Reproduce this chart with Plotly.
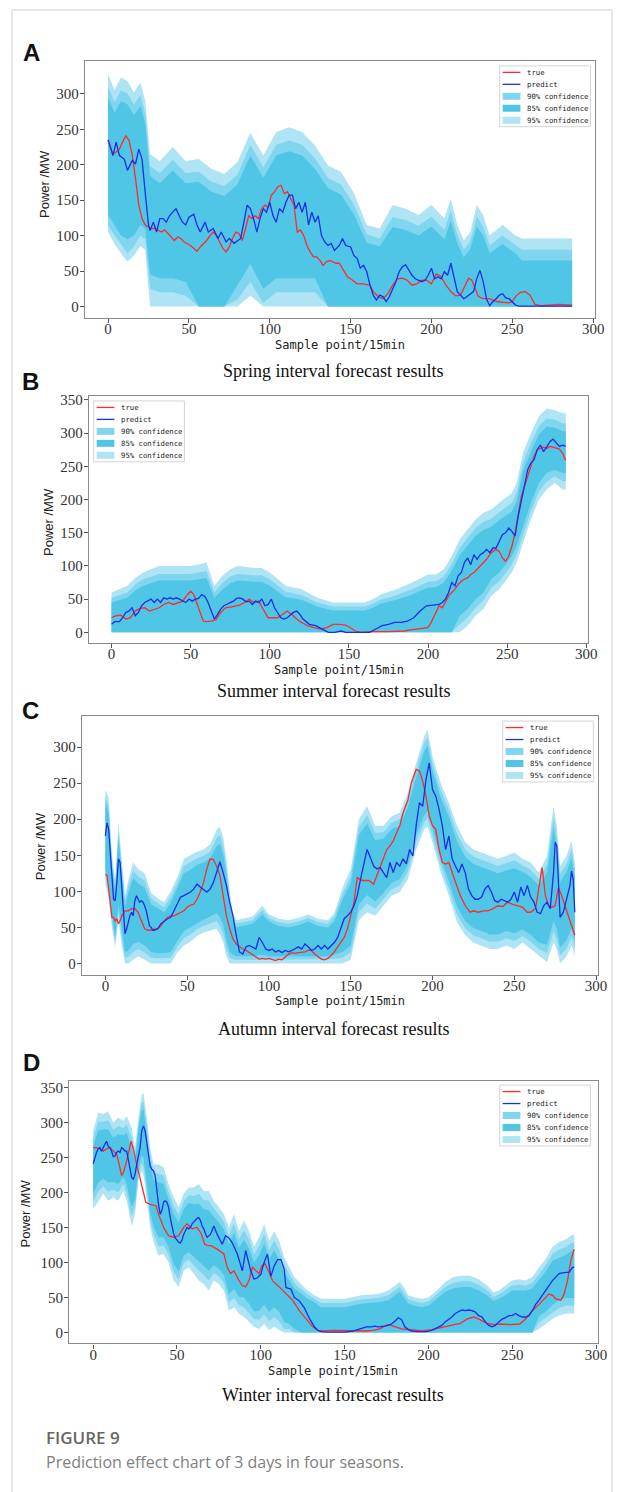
import plotly.graph_objects as go

# page is 626x1492; the browser body adds an 8px margin, so the figure is drawn 8px in
PAGE_W, PAGE_H, OFF = 626, 1492, 8
FW, FH = PAGE_W - OFF, PAGE_H - OFF

# ---------------- DATA ----------------
# Panel A - Spring
A_TRUE_X = [0,3,5,7,9,11,13,15,17,19,21,23,25,27,29,31,33,35,37,39,41,43,45,47,49,51,53,55,57,59,
            61,63,65,67,69,71,73,75,77,79,81,83,85,87,89,91,93,95,97,99,101,103,105,107,109,111,113,115,117,119,
            121,123,125,127,129,131,133,135,137,139,141,143,146,148,150,154,158,162,164,167,170,173,176,179,182,185,188,191,194,197,
            200,203,206,209,212,215,218,221,223,225,227,229,232,236,240,244,248,250,252,255,258,261,264,268,275,279,287]
A_TRUE = [235,215,218,222,232,241,234,213,180,143,124,115,112,110,110,108,105,108,103,98,
          93,98,96,91,89,86,82,78,84,89,93,100,105,100,91,82,77,84,96,105,
          103,93,110,128,124,128,124,138,143,140,157,162,169,171,159,162,152,143,105,108,
          100,86,77,70,70,65,58,63,65,63,61,61,49,42,39,32,32,30,21,14,
          11,18,30,39,40,37,30,32,37,37,32,46,42,30,21,15,16,30,40,37,
          25,14,11,11,7,6,5,7,14,20,21,16,3,1,2,3,2]
A_PRED_X = [0,3,5,7,10,12,15,17,19,21,23,25,26,28,30,32,34,36,38,40,42,44,46,48,50,53,55,57,60,62,
            65,68,70,73,75,78,80,82,84,86,88,90,92,94,96,98,100,102,104,106,108,110,112,114,116,118,120,122,124,126,
            128,130,132,134,136,138,140,143,145,147,150,152,154,156,158,160,162,164,166,168,170,172,174,176,178,180,182,184,186,188,
            190,192,194,196,198,200,202,204,206,208,210,212,214,216,218,220,222,224,226,228,230,232,234,236,238,240,242,244,246,248,
            250,252,254,287]
A_PRED = [235,213,232,213,208,192,206,201,222,208,160,115,107,119,105,124,124,119,128,133,
          138,128,119,115,126,130,115,105,119,105,110,96,105,91,96,89,93,96,119,143,
          138,124,105,124,138,133,147,128,119,138,133,147,157,157,138,147,133,147,115,133,
          119,128,100,91,86,89,79,86,96,86,84,72,68,54,58,49,30,16,9,16,
          14,7,14,25,35,49,56,59,51,44,39,37,35,37,44,54,39,42,39,49,
          44,61,39,21,16,11,14,18,21,39,51,35,11,1,7,11,16,18,12,11,
          7,2,0.5,0.5]
A_BAND_X = [0,4,8,12,16,20,23,26,32,40,48,56,64,72,80,88,96,104,112,120,128,136,144,152,160,168,176,184,192,200,
            208,212,216,220,224,228,232,236,244,252,256,287]
A_HI95 = [328,305,323,318,302,316,290,215,205,225,205,208,194,187,204,245,213,246,253,246,227,199,190,160,115,110,143,138,129,143,
          124,152,115,93,105,143,129,100,115,100,96,96]
A_HI90 = [310,288,305,300,285,298,272,198,188,207,188,190,176,170,186,228,196,228,234,228,209,181,172,144,102,96,126,122,114,127,
          108,135,101,80,92,127,113,86,100,86,80,80]
A_HI85 = [295,273,290,285,270,283,257,184,174,192,174,176,162,156,172,213,182,213,219,213,194,167,158,130,90,85,112,108,100,113,
          95,121,89,69,81,113,100,75,88,75,65,65]
A_LO85 = [129,115,100,95,100,115,110,45,40,40,35,0,0,0,30,60,25,40,40,40,40,0,0,0,0,0,0,0,0,0,
          0,0,0,0,0,0,0,0,0,0,0,0]
A_LO90 = [115,100,88,75,85,100,95,25,20,20,15,0,0,0,10,35,5,20,20,20,20,0,0,0,0,0,0,0,0,0,
          0,0,0,0,0,0,0,0,0,0,0,0]
A_LO95 = [105,88,75,63,72,85,80,0,0,0,0,0,0,0,0,15,0,0,0,0,0,0,0,0,0,0,0,0,0,0,
          0,0,0,0,0,0,0,0,0,0,0,0]

# Panel B - Summer
B_TRUE_X = [0,3,6,9,12,15,18,21,24,27,30,33,36,39,42,45,48,50,52,54,56,58,60,63,66,69,72,75,78,81,
            84,87,90,93,96,99,102,105,108,111,114,117,120,124,128,132,136,140,144,148,151,154,158,165,175,185,190,195,200,202,
            205,207,209,211,213,215,217,219,221,223,225,227,229,231,233,235,237,239,241,243,245,247,249,251,253,255,257,259,261,263,
            265,267,269,271,273,275,277,279,281,283,285,287]
B_TRUE = [22,25,26,20,22,32,36,37,32,34,37,42,45,42,45,47,57,62,57,45,30,17,16,17,19,30,37,38,40,41,
          45,50,45,47,34,22,22,22,27,32,27,20,15,10,7,5,7,12,12,11,7,2,0,1,1,2,4,5,7,15,
          30,40,37,45,55,60,65,72,77,80,82,87,90,95,100,105,110,117,122,125,122,112,107,115,130,150,180,205,220,235,
          252,265,275,277,279,277,280,279,277,276,270,259]
B_PRED_X = [0,2,5,7,9,11,13,15,17,19,21,23,25,27,29,31,33,35,37,39,41,43,45,47,49,51,53,55,57,59,
            61,63,65,67,69,71,73,75,77,79,81,83,85,87,89,91,93,95,97,99,101,103,105,107,109,111,113,115,117,119,
            121,125,129,133,137,141,145,148,155,163,167,171,175,179,183,187,191,195,199,203,207,209,211,213,215,217,219,221,223,225,
            227,229,231,233,235,237,239,241,243,245,247,249,251,253,255,257,259,261,263,265,267,269,271,273,275,277,279,281,283,285,287]
B_PRED = [12,16,16,22,30,32,37,25,30,40,45,47,50,45,50,45,52,50,52,50,52,50,47,45,50,47,50,51,57,54,
          45,32,20,27,35,40,42,45,47,51,52,50,46,47,42,47,45,50,40,42,50,37,30,22,20,22,26,30,32,27,
          20,12,10,5,0,0,2,0,0,0,5,10,12,15,15,17,22,32,40,41,42,45,50,60,75,70,85,90,105,112,
          102,117,110,117,120,125,120,127,127,137,147,150,157,152,145,175,200,225,245,255,260,275,282,272,280,287,291,285,280,282,280]
B_BAND_X = [0,10,15,20,30,40,50,55,60,65,70,75,80,90,95,100,105,110,120,130,140,160,165,170,180,190,200,205,210,215,
            220,225,230,235,240,245,250,253,256,260,265,270,275,280,285,287]
B_HI95 = [60,70,82,90,100,100,100,102,105,70,85,95,100,97,97,90,80,70,65,52,45,45,50,57,65,75,87,87,95,115,
          140,155,170,180,185,195,205,210,225,270,300,325,337,335,330,330]
B_HI90 = [52,60,72,80,88,88,88,90,92,60,74,84,88,86,86,80,70,61,56,45,39,39,43,49,56,65,76,77,84,103,
          127,142,157,166,171,181,190,195,210,255,285,310,322,320,315,315]
B_HI85 = [45,52,63,70,78,78,78,80,82,52,64,74,78,76,76,70,62,53,49,39,33,33,37,43,49,57,67,68,75,93,
          116,130,145,154,159,169,177,182,197,242,272,298,310,308,303,303]
B_LO85 = [0,0,0,0,0,0,0,0,0,0,0,0,0,0,0,0,0,0,0,0,0,0,0,0,0,0,0,0,0,0,
          25,35,50,60,80,90,105,115,130,160,195,225,240,245,240,240]
B_LO90 = [0,0,0,0,0,0,0,0,0,0,0,0,0,0,0,0,0,0,0,0,0,0,0,0,0,0,0,0,0,0,
          12,22,37,48,67,77,92,102,117,147,182,212,227,235,228,228]
B_LO95 = [0,0,0,0,0,0,0,0,0,0,0,0,0,0,0,0,0,0,0,0,0,0,0,0,0,0,0,0,0,0,
          0,10,25,35,55,65,80,90,105,135,170,200,215,225,215,215]

# Panel C - Autumn
C_TRUE_X = list(range(0, 11)) + list(range(12, 145, 2)) + [
    146,148,152,154,157,161,164,166,169,172,174,176,178,180,182,185,187,190,192,194,
    196,198,200,202,204,206,208,210,212,214,217,220,223,225,228,231,234,237,240,243,
    246,249,252,255,258,260,263,265,267,269,271,273,275,277,279,281,283,285,287]
C_TRUE = [124,122,103,80,64,64,59,62,55,59,66,
          73,73,76,76,71,59,48,46,46,48,48,52,59,64,66,66,68,71,73,78,81,82,89,99,112,131,145,144,135,122,
          94,66,48,34,27,23,20,18,15,11,9,6,7,6,7,5,4,6,5,9,13,15,14,15,15,16,18,18,13,9,6,5,7,11,16,23,29,
          36,48,85,119,115,115,110,122,140,158,163,170,181,191,209,227,250,269,267,253,
          232,204,191,186,158,140,138,140,126,112,94,80,71,73,71,73,73,76,80,79,
          85,82,80,78,71,71,76,103,133,94,80,78,80,105,94,80,66,52,39]
C_PRED_X = list(range(0, 31)) + list(range(32, 145, 2)) + list(range(146, 273, 2)) + [
    274,275,276,277,278,280,282,284,285,286,287]
C_PRED = [177,195,186,158,122,89,87,112,145,140,103,66,41,48,59,66,71,66,87,94,89,85,87,85,80,73,62,52,50,46,46,
          48,55,59,62,64,73,82,92,94,96,99,103,110,106,103,99,103,112,126,141,126,108,85,66,39,16,13,23,25,23,
          20,36,29,20,18,20,16,18,15,18,16,18,20,23,20,27,23,18,20,25,20,25,20,25,29,36,48,
          62,66,71,80,94,117,140,158,147,135,131,133,126,119,140,126,140,135,145,138,158,149,191,223,218,255,
          278,241,232,214,191,158,177,145,135,126,138,126,103,94,89,89,92,103,108,99,87,85,89,87,85,89,
          99,85,106,94,108,92,85,71,69,80,85,76,
          126,168,163,112,64,71,90,108,128,117,71]
C_BAND_X = [0,2,4,6,8,10,12,14,17,20,24,28,32,36,40,44,48,52,56,60,64,68,70,72,74,76,78,80,84,90,
            96,100,106,112,118,124,130,136,140,145,150,155,160,165,170,175,180,185,190,195,197,200,205,210,215,220,225,230,235,240,
            245,250,255,260,265,270,274,276,278,282,285,287]
C_HI95 = [241,230,150,115,195,150,95,115,140,131,125,98,90,85,100,120,145,150,155,158,165,185,190,175,145,100,70,60,62,65,
          80,68,62,60,63,68,62,60,70,105,131,200,218,191,191,204,209,237,278,315,324,287,250,223,191,168,158,154,149,145,
          149,154,145,140,126,149,218,191,135,149,170,140]
C_HI90 = [231,219,142,108,184,140,87,106,129,121,115,90,83,78,92,112,135,140,146,149,155,174,178,163,134,92,64,55,57,60,
          74,63,57,55,58,63,57,55,64,97,121,189,206,181,182,195,200,227,268,305,313,277,240,213,180,158,148,144,139,135,
          139,143,136,130,117,137,203,177,124,138,158,130]
C_HI85 = [221,208,134,101,173,130,79,97,118,111,105,82,76,71,84,104,125,130,137,140,145,163,166,151,123,84,58,50,52,55,
          68,58,52,50,53,58,52,50,58,89,111,178,194,171,173,186,191,217,258,295,302,267,230,203,169,148,138,134,129,125,
          129,132,127,120,108,125,188,163,113,127,146,120]
C_LO85 = [130,112,66,36,82,45,16,18,27,30,25,16,14,14,16,31,45,50,56,61,65,70,64,54,32,16,12,10,10,10,
          12,10,10,10,10,10,10,10,12,16,25,82,95,86,98,112,117,137,178,206,212,188,146,114,79,59,49,45,40,40,
          45,42,47,40,29,26,59,48,22,32,49,31]
C_LO90 = [120,101,58,29,71,35,8,9,16,20,15,8,7,7,8,23,35,40,47,52,55,59,52,42,21,8,6,5,5,5,
          6,5,5,5,5,5,5,5,6,8,15,71,83,76,89,103,108,127,168,196,201,178,136,104,68,49,39,35,30,30,
          35,31,38,30,20,14,44,34,11,21,37,21]
C_LO95 = [110,90,50,22,60,25,0,0,5,10,5,0,0,0,0,15,25,30,38,43,45,48,40,30,10,0,0,0,0,0,
          0,0,0,0,0,0,0,0,0,0,5,60,71,66,80,94,99,117,158,186,190,168,126,94,57,39,29,25,20,20,
          25,20,29,20,11,2,29,20,0,10,25,11]

# Panel D - Winter
D_TRUE_X = [0,2,4,6,8,10,12,14,15.5,17,18,20,22.6,24,25.5,28.5,31.4,34,37.6,39,
            42,45,48,51,54,56,59,62,64.5,66.5,68.4,70.4,74,78,80,82,84,87,89,91,
            93,95,97,99,100.6,102.5,104.5,107,111,115,119,123,127,131,134,137,143,153,163,167,
            171,174.5,176.5,179,184,190,196,202,208,213,219,223,227,231,235,239,243,248.5,254.5,258,
            262,266,270,272,274,276,279,281,283,285,287]
D_TRUE = [264,264,262,259,262,264,259,255,240,224,228,245,273,262,245,216,186,183,181,169,
          150,138,136,138,150,155,148,150,141,126,124,124,119,112,93,84,88,74,67,65,
          74,93,88,84,95,98,88,74,65,55,46,31,19,8,3,2,3,2,2,3,
          5,10,11,9,5,4,2,4,7,9,13,19,22,18,13,11,12,11,12,19,
          31,40,50,55,53,48,46,55,74,103,119]
D_PRED_X = list(range(0, 69)) + [
    70,72,74,76,77,79,81,83,86,89,91,94,96,98,100,102,104,106,108,110,
    112,114,115,118,120,123,126,129,132,134,136,140,150,155,
    158,160,163,166,168,170,172,174,176,178,180,182,184,186,188,190,193,196,199,202] + list(range(204, 287, 2)) + [287]
D_PRED = [241,250,257,262,264,259,265,269,273,266,264,259,251,252,257,259,257,264,262,259,
          259,247,236,221,219,226,240,254,264,288,295,288,271,250,238,233,231,224,202,183,
          169,174,186,188,186,179,164,150,141,135,131,129,128,132,140,146,150,148,150,155,
          158,160,163,164,160,152,148,141,136,
          140,152,140,130,126,138,135,128,112,88,117,88,76,78,83,100,112,80,95,104,
          104,90,64,62,50,45,35,20,8,3,1,0.5,0.5,2,
          4,5,8,8,9,8,8,9,10,12,16,21,18,8,4,2,1,0.5,1,3,
          5,8,10,15,18,22,27,30,32,31,32,31,29,24,22,15,10,8,10,15,
          19,21,24,24,27,24,22,22,24,31,40,46,53,60,67,74,79,84,85,85,
          86,93,93]
D_BAND_X = [0,3,6,9,12,15,18,20,22,23,25,27,29,30,32,34,36,39,42,45,
            48,51,54,57,60,63,66,69,72,75,78,81,84,87,90,93,96,99,102,105,
            108,111,114,117,120,124,128,132,136,143,150,160,170,176,180,183,186,188,192,196,
            200,205,210,215,220,225,230,235,239,242,246,250,254,258,262,266,270,274,278,282,285,287]
D_HI95 = [288,314,312,316,300,307,302,309,298,292,264,307,340,342,307,264,240,240,236,212,
          193,179,198,207,207,212,202,202,188,179,169,150,169,145,160,145,122,136,155,131,
          145,131,107,93,79,69,60,53,48,48,48,53,55,60,67,72,62,53,50,48,
          50,60,72,79,81,81,76,67,57,60,67,74,76,74,79,93,105,122,129,133,138,140]
D_HI90 = [277,301,301,303,289,295,292,297,284,278,254,298,329,330,295,253,229,227,224,201,
          181,168,187,196,195,198,189,188,177,168,158,138,156,133,146,132,111,123,141,118,
          131,118,96,84,71,62,54,48,42,42,42,47,49,53,60,65,55,47,44,42,
          44,54,65,71,73,73,68,60,51,54,60,67,68,67,71,84,96,112,118,122,127,129]
D_HI85 = [266,288,290,290,278,283,282,285,270,264,244,289,318,318,283,242,218,214,212,190,
          169,157,176,185,183,184,176,174,166,157,147,126,143,121,132,119,100,110,127,105,
          117,105,85,75,63,55,48,43,36,36,36,41,43,46,53,58,48,41,38,36,
          38,48,58,63,65,65,60,53,45,48,53,60,60,60,63,75,87,102,107,111,116,118]
D_LO85 = [198,214,220,214,215,212,222,212,188,180,189,234,253,249,214,172,152,136,136,122,
          98,87,110,115,108,102,95,88,96,91,82,55,62,51,50,41,30,31,40,29,
          36,29,15,12,5,0,0,0,0,0,0,0,0,0,0,0,0,0,0,0,
          0,0,0,0,0,0,0,0,0,0,0,0,0,0,0,23,30,39,46,49,49,49]
D_LO90 = [187,201,209,201,204,200,212,200,174,166,179,225,242,237,202,161,141,123,124,111,
          86,76,99,104,96,88,82,74,85,80,71,43,49,39,36,28,19,18,26,16,
          22,16,5,5,0,0,0,0,0,0,0,0,0,0,0,0,0,0,0,0,
          0,0,0,0,0,0,0,0,0,0,0,0,0,0,0,14,21,29,35,38,38,38]
D_LO95 = [176,188,198,188,193,188,202,188,160,152,169,216,231,225,190,150,130,110,112,100,
          74,65,88,93,84,74,69,60,74,69,60,31,36,27,22,15,8,5,12,3,
          8,3,0,0,0,0,0,0,0,0,0,0,0,0,0,0,0,0,0,0,
          0,0,0,0,0,0,0,0,0,0,0,0,0,0,0,5,12,19,24,27,27,27]

X_TICKS = [0, 50, 100, 150, 200, 250, 300]
Y_TICKS_AC = [0, 50, 100, 150, 200, 250, 300]
Y_TICKS_BD = [0, 50, 100, 150, 200, 250, 300, 350]
CAPTIONS = ["Spring interval forecast results", "Summer interval forecast results",
            "Autumn interval forecast results", "Winter interval forecast results"]
LETTERS = ["A", "B", "C", "D"]
LEGEND_LABELS = ["true", "predict", "90% confidence", "85% confidence", "95% confidence"]

# ---------------- STYLE / LAYOUT ----------------
C95, C90, C85 = "#aee4f4", "#80d5ef", "#50c6e6"
RED, BLUE = "#ff2a2a", "#1a2ee6"


def fx(px):
    return (px - OFF) / FW


def fy(py):
    return 1 - (py - OFF) / FH


panels = [
    dict(data=(A_TRUE_X, A_TRUE, A_PRED_X, A_PRED, A_BAND_X, A_LO95, A_HI95, A_LO90, A_HI90, A_LO85, A_HI85),
         frame=(86, 604, 57, 315), yr=[-16.5, 346.5], yt=Y_TICKS_AC, leg=(507, 62),
         letter=(21, 49), ytitle=(45, 180), xtitle=(345, 342), cap=(338, 368)),
    dict(data=(B_TRUE_X, B_TRUE, B_PRED_X, B_PRED, B_BAND_X, B_LO95, B_HI95, B_LO90, B_HI90, B_LO85, B_HI85),
         frame=(90, 597, 393, 641), yr=[-16.5, 356], yt=Y_TICKS_BD, leg=(95, 398),
         letter=(20, 378), ytitle=(49, 519), xtitle=(344, 668), cap=(338, 689)),
    dict(data=(C_TRUE_X, C_TRUE, C_PRED_X, C_PRED, C_BAND_X, C_LO95, C_HI95, C_LO90, C_HI90, C_LO85, C_HI85),
         frame=(83, 607, 714, 974), yr=[-16.6, 343], yt=Y_TICKS_AC, leg=(510, 719),
         letter=(20, 708), ytitle=(41, 845), xtitle=(345, 1000), cap=(338, 1028)),
    dict(data=(D_TRUE_X, D_TRUE, D_PRED_X, D_PRED, D_BAND_X, D_LO95, D_HI95, D_LO90, D_HI90, D_LO85, D_HI85),
         frame=(70, 607, 1080, 1343), yr=[-15.7, 359], yt=Y_TICKS_BD, leg=(507, 1084),
         letter=(21, 1061), ytitle=(26, 1213), xtitle=(338, 1371), cap=(338, 1395)),
]

fig = go.Figure()
layout = dict(width=FW, height=FH, margin=dict(l=0, r=0, t=0, b=0),
              paper_bgcolor="white", plot_bgcolor="white", showlegend=False)
annotations = []
shapes = []

# card border
shapes.append(dict(type="rect", xref="paper", yref="paper", x0=fx(12), x1=fx(621), y0=fy(1520), y1=fy(6),
                   line=dict(color="#cfcfcf", width=1), fillcolor="rgba(0,0,0,0)", layer="below"))

for i, p in enumerate(panels):
    n = "" if i == 0 else str(i + 1)
    xa, ya = "x" + n, "y" + n
    tx, tv, px_, pv, bx, lo95, hi95, lo90, hi90, lo85, hi85 = p["data"]

    for lo, hi, col in [(lo95, hi95, C95), (lo90, hi90, C90), (lo85, hi85, C85)]:
        fig.add_trace(go.Scatter(x=bx, y=lo, xaxis=xa, yaxis=ya, mode="lines",
                                 line=dict(width=0, color=col), hoverinfo="skip"))
        fig.add_trace(go.Scatter(x=bx, y=hi, xaxis=xa, yaxis=ya, mode="lines",
                                 line=dict(width=0, color=col), fill="tonexty", fillcolor=col,
                                 hoverinfo="skip"))
    fig.add_trace(go.Scatter(x=tx, y=tv, xaxis=xa, yaxis=ya, mode="lines",
                             line=dict(color=RED, width=1.3), name="true"))
    fig.add_trace(go.Scatter(x=px_, y=pv, xaxis=xa, yaxis=ya, mode="lines",
                             line=dict(color=BLUE, width=1.3), name="predict"))

    l, r, t, b = p["frame"]
    axis_common = dict(showline=True, mirror=True, linecolor="#8a8a8a", linewidth=1.2,
                       ticks="outside", ticklen=4, tickwidth=1, tickcolor="#555",
                       showgrid=False, zeroline=False,
                       tickfont=dict(family="Liberation Serif, Times New Roman, serif", size=15, color="#333"))
    layout["xaxis" + n] = dict(axis_common, domain=[fx(l), fx(r)], anchor=ya,
                               range=[-14.35, 301.35], tickmode="array", tickvals=X_TICKS,
                               ticklabelstandoff=-7)
    layout["yaxis" + n] = dict(axis_common, domain=[fy(b), fy(t)], anchor=xa,
                               range=p["yr"], tickmode="array", tickvals=p["yt"],
                               ticklabelstandoff=-2)

    # legend drawn by hand (box, samples, texts)
    lx, ly = p["leg"]
    shapes.append(dict(type="rect", xref="paper", yref="paper", x0=fx(lx), x1=fx(lx + 92),
                       y0=fy(ly + 61), y1=fy(ly), line=dict(color="#d4d4d4", width=1), fillcolor="white"))
    for k, lab in enumerate(LEGEND_LABELS):
        cy = ly + 6.5 + 12 * k
        if k < 2:
            shapes.append(dict(type="line", xref="paper", yref="paper", x0=fx(lx + 3), x1=fx(lx + 21),
                               y0=fy(cy), y1=fy(cy), line=dict(color=[RED, BLUE][k], width=1.3)))
        else:
            col = [C90, C85, C95][k - 2]
            shapes.append(dict(type="rect", xref="paper", yref="paper", x0=fx(lx + 3), x1=fx(lx + 21),
                               y0=fy(cy + 3.5), y1=fy(cy - 3.5), line=dict(width=0), fillcolor=col))
        annotations.append(dict(text=lab, x=fx(lx + 26), y=fy(cy), xref="paper", yref="paper",
                                xanchor="left", yanchor="middle", showarrow=False,
                                font=dict(family="DejaVu Sans Mono", size=7.3, color="#222")))

    ax, ay = p["letter"]
    annotations.append(dict(text="<b>%s</b>" % LETTERS[i], x=fx(ax), y=fy(ay), xref="paper", yref="paper",
                            xanchor="left", yanchor="middle", showarrow=False,
                            font=dict(family="Liberation Sans", size=24, color="#111")))
    yx, yy = p["ytitle"]
    annotations.append(dict(text="Power /MW", x=fx(yx), y=fy(yy), xref="paper", yref="paper",
                            xanchor="center", yanchor="middle", showarrow=False, textangle=-90,
                            font=dict(family="Liberation Sans", size=13, color="#222")))
    xx, xy = p["xtitle"]
    annotations.append(dict(text="Sample point/15min", x=fx(xx), y=fy(xy), xref="paper", yref="paper",
                            xanchor="center", yanchor="middle", showarrow=False,
                            font=dict(family="DejaVu Sans Mono", size=12, color="#222")))
    cx, cy = p["cap"]
    annotations.append(dict(text=CAPTIONS[i], x=fx(cx), y=fy(cy), xref="paper", yref="paper",
                            xanchor="center", yanchor="middle", showarrow=False,
                            font=dict(family="Liberation Serif", size=18, color="#111")))

annotations.append(dict(text="FIGURE 9", x=fx(45), y=fy(1437), xref="paper", yref="paper",
                        xanchor="left", yanchor="middle", showarrow=False,
                        font=dict(family="Open Sans", size=17, color="#666", weight=600)))
annotations.append(dict(text="Prediction effect chart of 3 days in four seasons.", x=fx(45), y=fy(1462),
                        xref="paper", yref="paper", xanchor="left", yanchor="middle", showarrow=False,
                        font=dict(family="Open Sans", size=16, color="#808080")))

layout["annotations"] = annotations
layout["shapes"] = shapes
fig.update_layout(**layout)
fig.write_html("out.html")
